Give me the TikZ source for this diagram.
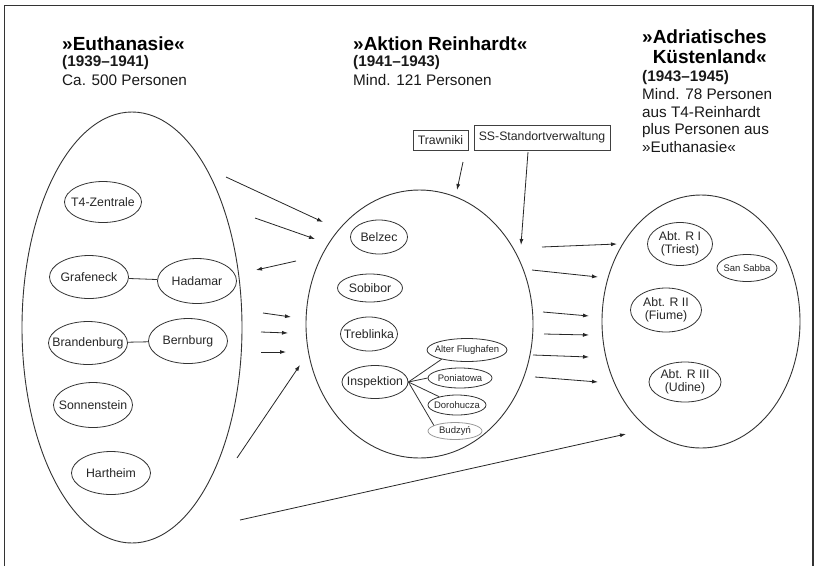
\documentclass[tikz,border=0pt]{standalone}
\usepackage{fontspec}
\setmainfont{Liberation Sans}
\usetikzlibrary{shapes.geometric,arrows.meta}

\begin{document}
\begin{tikzpicture}[x=1pt,y=-1pt,
    big/.style={draw=black!80,line width=0.9pt,ellipse,inner sep=0pt},
    place/.style={draw=black!80,line width=0.8pt,ellipse,inner xsep=-10pt,inner ysep=0pt,
      align=center,text=black!85,font=\fontsize{12.3}{13.5}\selectfont},
    subplace/.style={place,font=\fontsize{9.5}{11}\selectfont},
    office/.style={draw=black!75,line width=0.8pt,inner sep=0pt,text=black!85,
      font=\fontsize{12.3}{14}\selectfont},
    arr/.style={draw=black!85,line width=0.8pt,-{Latex[length=6pt,width=4pt]}},
    link/.style={draw=black!80,line width=0.8pt},
    head/.style={anchor=base west,inner sep=0pt,align=left,font=\fontsize{19}{20}\selectfont\bfseries},
    years/.style={anchor=base west,inner sep=0pt,text=black!90,font=\fontsize{15.3}{17.3}\selectfont\bfseries},
    note/.style={anchor=base west,inner sep=0pt,align=left,text=black!90,font=\fontsize{15.3}{17.4}\selectfont}]
  \useasboundingbox (0,0) rectangle (817,566);
  \draw[black!80,line width=1.5pt] (4.5,566) -- (4.5,5.5) -- (813,5.5) -- (813,566);

  % headings (base = last line)
  \node[head] (euthhead) at (62,50) {»Euthanasie«};
  \node[years] (euthyears) at (62,66.5) {(1939–1941)};
  \node[note] (euthcount) at (62,85.5) {Ca. 500 Personen};
  \node[head] (aktionhead) at (353,50) {»Aktion Reinhardt«};
  \node[years] (aktionyears) at (353,66.5) {(1941–1943)};
  \node[note] (aktioncount) at (353,85.5) {Mind. 121 Personen};
  \node[head] (kuesthead) at (642,63) {»Adriatisches\\\phantom{»}Küstenland«};
  \node[years] (kuestyears) at (642,81.5) {(1943–1945)};
  \node[note] (kuestcount) at (642,152) {Mind. 78 Personen\\aus T4-Reinhardt\\plus Personen aus\\»Euthanasie«};

  % the three phases
  \node[big,minimum width=220,minimum height=431] (euth) at (132,327.5) {};
  \node[big,minimum width=227,minimum height=268] (aktion) at (419.5,324) {};
  \node[big,minimum width=198,minimum height=253] (kuest) at (701,321.5) {};

  % Euthanasie
  \node[place,minimum width=77,minimum height=41] (zentrale) at (103,202) {T4-Zentrale};
  \node[place,minimum width=79,minimum height=43] (graf) at (89,277) {Grafeneck};
  \node[place,minimum width=79,minimum height=45] (hada) at (197,281) {Hadamar};
  \node[place,minimum width=79,minimum height=43] (brand) at (88,343) {Brandenburg};
  \node[place,minimum width=79,minimum height=45] (bern) at (188,341) {Bernburg};
  \node[place,minimum width=79,minimum height=45] (sonn) at (93,405) {Sonnenstein};
  \node[place,minimum width=79,minimum height=43] (hart) at (111,473) {Hartheim};
  \draw[link] (graf) -- (hada);
  \draw[link] (brand) -- (bern);

  % Aktion Reinhardt
  \node[place,minimum width=57,minimum height=34] (belzec) at (379,237) {Belzec};
  \node[place,minimum width=65,minimum height=28] (sobibor) at (370,288) {Sobibor};
  \node[place,minimum width=57,minimum height=34] (treb) at (369,334) {Treblinka};
  \node[place,minimum width=66,minimum height=33] (insp) at (375,382) {Inspektion};
  \node[subplace,minimum width=80,minimum height=23] (alter) at (467,350) {Alter Flughafen};
  \node[subplace,minimum width=64,minimum height=20] (poni) at (460,378) {Poniatowa};
  \node[subplace,minimum width=58,minimum height=20] (doro) at (457,405) {Dorohucza};
  \node[subplace,draw=black!40,minimum width=54,minimum height=17] (budz) at (455,431) {Budzyń};
  \draw[link] (insp.east) -- (alter.200);
  \draw[link] (insp.east) -- (poni.west);
  \draw[link] (insp.east) -- (doro.155);
  \draw[link] (insp.east) -- (budz.165);

  \node[office,minimum width=55,minimum height=20] (traw) at (440.5,140) {Trawniki};
  \node[office,minimum width=136,minimum height=25] (ssverw) at (542,137.5) {SS-Standortverwaltung};
  \coordinate (trawfrom) at (463,162);
  \coordinate (trawto) at (457,190);
  \coordinate (ssfrom) at (528,152);
  \coordinate (ssto) at (521,245);
  \draw[arr] (trawfrom) -- (trawto);
  \draw[arr] (ssfrom) -- (ssto);

  % Adriatisches Kuestenland
  \node[place,minimum width=65,minimum height=43] (triest) at (680,244) {Abt. R I\\(Triest)};
  \node[subplace,minimum width=60,minimum height=27] (sabba) at (747,268) {San Sabba};
  \node[place,minimum width=71,minimum height=44] (fiume) at (666,310) {Abt. R II\\(Fiume)};
  \node[place,minimum width=72,minimum height=40] (udine) at (685,382) {Abt. R III\\(Udine)};

  % transfers Euthanasie -> Reinhardt
  \coordinate (e1a) at (226,177);  \coordinate (e1b) at (323,222);
  \coordinate (e2a) at (255,218);  \coordinate (e2b) at (315,239);
  \coordinate (r1a) at (296,261);  \coordinate (r1b) at (256,270);
  \coordinate (e3a) at (263,313);  \coordinate (e3b) at (291,317);
  \coordinate (e4a) at (261,332);  \coordinate (e4b) at (288,333);
  \coordinate (e5a) at (261,352);  \coordinate (e5b) at (286,352);
  \coordinate (e6a) at (237,458);  \coordinate (e6b) at (300,365);
  \coordinate (longa) at (240,520); \coordinate (longb) at (626,434);
  \draw[arr] (e1a) -- (e1b);
  \draw[arr] (e2a) -- (e2b);
  \draw[arr] (r1a) -- (r1b);
  \draw[arr] (e3a) -- (e3b);
  \draw[arr] (e4a) -- (e4b);
  \draw[arr] (e5a) -- (e5b);
  \draw[arr] (e6a) -- (e6b);
  \draw[arr] (longa) -- (longb);

  % transfers Reinhardt -> Kuestenland
  \coordinate (k1a) at (542,247);  \coordinate (k1b) at (617,244);
  \coordinate (k2a) at (532,270);  \coordinate (k2b) at (598,277);
  \coordinate (k3a) at (543,312);  \coordinate (k3b) at (589,316);
  \coordinate (k4a) at (544,334);  \coordinate (k4b) at (589,335);
  \coordinate (k5a) at (533,355);  \coordinate (k5b) at (589,357);
  \coordinate (k6a) at (535,377);  \coordinate (k6b) at (598,382);
  \draw[arr] (k1a) -- (k1b);
  \draw[arr] (k2a) -- (k2b);
  \draw[arr] (k3a) -- (k3b);
  \draw[arr] (k4a) -- (k4b);
  \draw[arr] (k5a) -- (k5b);
  \draw[arr] (k6a) -- (k6b);
\end{tikzpicture}
\end{document}
